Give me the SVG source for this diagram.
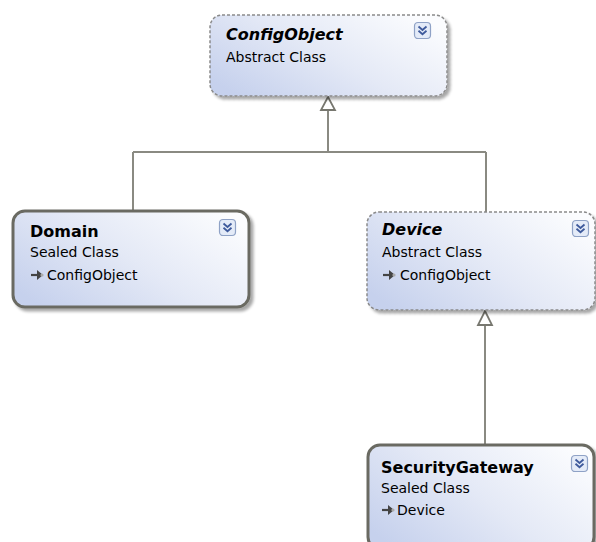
<svg xmlns="http://www.w3.org/2000/svg" width="596" height="542" viewBox="0 0 596 542">
<defs>
<linearGradient id="fill" x1="0" y1="0.8" x2="1" y2="0.2">
<stop offset="0" stop-color="#c6d1ed"/>
<stop offset="0.5" stop-color="#e4e9f6"/>
<stop offset="1" stop-color="#fbfcfe"/>
</linearGradient>
<filter id="shadow" x="-10%" y="-10%" width="125%" height="130%">
<feGaussianBlur in="SourceAlpha" stdDeviation="1.5"/>
<feOffset dx="3" dy="3" result="b"/>
<feComponentTransfer><feFuncA type="linear" slope="0.35"/></feComponentTransfer>
<feMerge><feMergeNode/><feMergeNode in="SourceGraphic"/></feMerge>
</filter>
<g id="toggle">
<rect x="0.5" y="0.5" width="16" height="16" rx="3.5" fill="#e4ebf8" stroke="#8fa2c6" stroke-width="1.2"/>
<path d="M4.5 4.5 L8.5 8 L12.5 4.5 M4.5 8.8 L8.5 12.3 L12.5 8.8" fill="none" stroke="#3e5a9c" stroke-width="1.8"/>
</g>
<g id="inh">
<path d="M0 0 L7 0" stroke="#444" stroke-width="2.2"/>
<path d="M6 -5 L12 0 L6 5 Z" fill="#444"/>
<circle cx="11" cy="0" r="1.6" fill="#aaa"/>
</g>
</defs>
<style>
.box{fill:url(#fill);filter:url(#shadow)}
.abs{stroke:#8a8a8a;stroke-width:1.5;stroke-dasharray:3 2}
.sealed{stroke:#6a6a62;stroke-width:3}
.t{font-family:"DejaVu Sans",Verdana,sans-serif;fill:#000}
.title{font-size:16px;font-weight:bold}
.it{font-style:italic}
.sub{font-size:14px}
.con{fill:none;stroke:#8a8a82;stroke-width:2}
.tri{fill:#fff;stroke:#77776f;stroke-width:1.8}
</style>
<g id="connectors">
<path class="con" d="M328 110 V152 M133 152 H486 M133 152 V211 M486 152 V212"/>
<path class="con" d="M485 325 V445"/>
<path class="tri" d="M328 97 L335 110 L321 110 Z"/>
<path class="tri" d="M485 311 L492 325 L478 325 Z"/>
</g>
<g id="ConfigObject">
<rect class="box abs" x="210" y="15" width="237" height="81" rx="12"/>
<text class="t title it" x="226" y="40">ConfigObject</text>
<text class="t sub" x="226" y="62">Abstract Class</text>
<use href="#toggle" x="414" y="22"/>
</g>
<g id="Domain">
<rect class="box sealed" x="13" y="211" width="236" height="96" rx="12"/>
<text class="t title" x="30" y="237">Domain</text>
<text class="t sub" x="30" y="257">Sealed Class</text>
<use href="#inh" x="31" y="275"/>
<text class="t sub" x="47" y="280">ConfigObject</text>
<use href="#toggle" x="219" y="219"/>
</g>
<g id="Device">
<rect class="box abs" x="367" y="212" width="228" height="98" rx="12"/>
<text class="t title it" x="382" y="235">Device</text>
<text class="t sub" x="382" y="257">Abstract Class</text>
<use href="#inh" x="383" y="275"/>
<text class="t sub" x="400" y="280">ConfigObject</text>
<use href="#toggle" x="572" y="220"/>
</g>
<g id="SecurityGateway">
<rect class="box sealed" x="368" y="445" width="226" height="104" rx="12"/>
<text class="t title" x="381" y="473">SecurityGateway</text>
<text class="t sub" x="381" y="493">Sealed Class</text>
<use href="#inh" x="382" y="510"/>
<text class="t sub" x="397" y="515">Device</text>
<use href="#toggle" x="571" y="455"/>
</g>
</svg>
